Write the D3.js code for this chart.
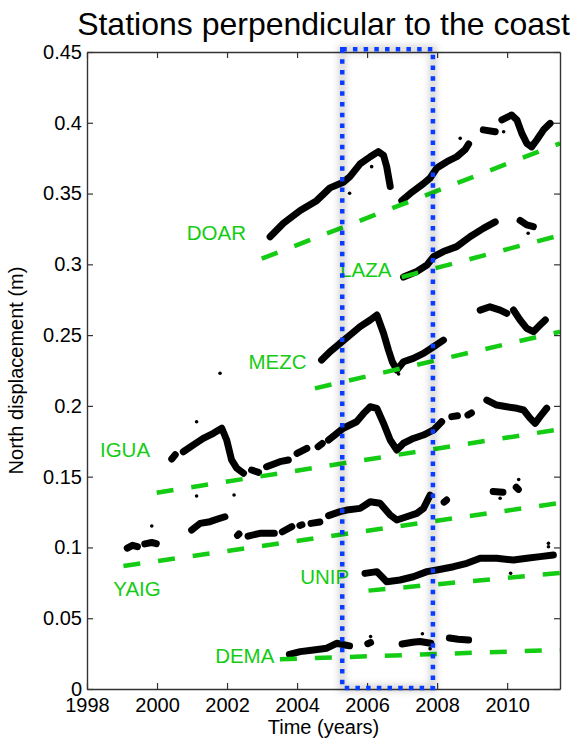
<!DOCTYPE html>
<html>
<head>
<meta charset="utf-8">
<script src="https://cdn.jsdelivr.net/npm/d3@7"></script>
<style>
  html, body { margin: 0; padding: 0; background: #fff; }
  svg { display: block; font-family: "Liberation Sans", Arial, Helvetica, sans-serif; }
</style>
</head>
<body>
<svg id="chart" width="576" height="741"></svg>
<script>
// ---------------- DATA ----------------
const xTicks = [1998, 2000, 2002, 2004, 2006, 2008, 2010];
const xTickLabels = ["1998", "2000", "2002", "2004", "2006", "2008", "2010"];
const yTicks = [0, 0.05, 0.1, 0.15, 0.2, 0.25, 0.3, 0.35, 0.4, 0.45];
const yTickLabels = ["0", "0.05", "0.1", "0.15", "0.2", "0.25", "0.3", "0.35", "0.4", "0.45"];

const stationNames = ["DOAR", "LAZA", "MEZC", "IGUA", "YAIG", "UNIP", "DEMA"];

// time series [year, north displacement (m)], null = data gap
const doar = [[2003.23,0.3195],[2003.61,0.329],[2004.09,0.338],[2004.56,0.345],[2004.94,0.354],[2005.32,0.358],[2005.51,0.362],[2005.8,0.371],[2006.09,0.376],[2006.32,0.3796],[2006.47,0.377],[2006.56,0.369],[2006.66,0.355], null,
  [2006.99,0.345],[2007.23,0.350],[2007.61,0.357],[2007.8,0.361],[2007.99,0.368],[2008.28,0.3725],[2008.56,0.376],[2008.8,0.381],[2008.9,0.385], null,
  [2009.32,0.395],[2009.66,0.3937], null,
  [2009.85,0.402],[2010.13,0.4055],[2010.28,0.402],[2010.42,0.3925],[2010.56,0.3855],[2010.7,0.383],[2010.85,0.388],[2011.04,0.395],[2011.23,0.3996]];
const laza = [[2007.04,0.291],[2007.42,0.295],[2007.71,0.2995],[2007.9,0.3054],[2008.18,0.309],[2008.56,0.3125],[2008.94,0.3195],[2009.32,0.3254],[2009.66,0.330], null,
  [2010.37,0.331],[2010.56,0.3278],[2010.75,0.3266]];
const mezc = [[2004.7,0.2324],[2004.94,0.2383],[2005.23,0.2442],[2005.51,0.250],[2005.8,0.256],[2006.09,0.2607],[2006.28,0.2642],[2006.47,0.2513],[2006.61,0.2395],[2006.72,0.2312],[2006.85,0.2253],[2007.04,0.2312],[2007.32,0.2336],[2007.61,0.2371],[2007.9,0.2418],[2008.18,0.2465], null,
  [2009.23,0.2677],[2009.51,0.270],[2009.8,0.2677],[2009.99,0.2654], null,
  [2010.18,0.2677],[2010.37,0.2607],[2010.56,0.2548],[2010.75,0.2524],[2010.94,0.2571],[2011.09,0.2607]];
const igua = [[2000.42,0.1625],[2000.52,0.1655], null,
  [2000.75,0.1676],[2001.04,0.1724],[2001.32,0.177],[2001.61,0.1806],[2001.85,0.1842],[2001.99,0.1759],[2002.13,0.1618],[2002.28,0.1559],[2002.47,0.1524], null,
  [2002.7,0.1547],[2002.9,0.153], null,
  [2003.13,0.157],[2003.51,0.1606],[2003.75,0.1618], null,
  [2004.0,0.1665],[2004.28,0.170], null,
  [2004.6,0.1712],[2004.72,0.1735], null,
  [2004.9,0.1759],[2005.32,0.1842],[2005.7,0.1888],[2005.9,0.1947],[2006.09,0.1994],[2006.28,0.1983],[2006.47,0.1877],[2006.66,0.1759],[2006.85,0.1688],[2007.04,0.1736],[2007.32,0.177],[2007.61,0.1794],[2007.9,0.183],[2008.13,0.1888], null,
  [2008.42,0.1924],[2008.58,0.1930], null,
  [2008.88,0.1936],[2008.98,0.195], null,
  [2009.42,0.2041],[2009.7,0.2006],[2009.99,0.1994],[2010.28,0.1983],[2010.47,0.1971],[2010.66,0.1912],[2010.8,0.1877],[2010.94,0.1924],[2011.13,0.1983]];
const yaig = [[1999.15,0.0995],[1999.3,0.1015],[1999.44,0.1005], null,
  [1999.65,0.1025],[1999.85,0.1035],[1999.98,0.1027], null,
  [2000.99,0.1123],[2001.23,0.117],[2001.51,0.1182],[2001.8,0.1206],[2001.94,0.1217], null,
  [2002.3,0.1085],[2002.34,0.1095], null,
  [2002.6,0.108],[2002.94,0.11],[2003.35,0.11], null,
  [2003.58,0.1111],[2003.85,0.1147], null,
  [2004.08,0.1155],[2004.14,0.116], null,
  [2004.4,0.117],[2004.65,0.118], null,
  [2004.9,0.1225],[2005.23,0.1253],[2005.42,0.1264],[2005.8,0.1276],[2006.09,0.1323],[2006.37,0.1312],[2006.66,0.1229],[2006.85,0.1194],[2007.13,0.1217],[2007.42,0.1241],[2007.61,0.1276],[2007.8,0.137], null,
  [2008.2,0.132],[2008.27,0.1335], null,
  [2009.6,0.1395],[2009.88,0.139], null,
  [2010.26,0.1425],[2010.32,0.141]];
const unip = [[2005.94,0.0817],[2006.28,0.0829],[2006.56,0.0758],[2006.94,0.077],[2007.32,0.0793],[2007.71,0.0829],[2007.99,0.0841],[2008.47,0.0864],[2008.85,0.0888],[2009.23,0.0923],[2009.7,0.0923],[2010.18,0.0911],[2010.56,0.0923],[2010.94,0.0935],[2011.32,0.0947]];
const dema = [[2003.78,0.0245],[2004.09,0.0264],[2004.47,0.0276],[2004.85,0.0288],[2005.13,0.0323],[2005.37,0.0311],[2005.5,0.0305], null,
  [2006.02,0.032],[2006.1,0.0328], null,
  [2007.0,0.0318],[2007.3,0.033],[2007.51,0.0335],[2007.82,0.0323], null,
  [2008.35,0.036],[2008.6,0.0352],[2008.9,0.0346]];

// isolated points
const doarOutliers = [[2005.5,0.3502],[2006.13,0.369],[2008.66,0.389],[2009.9,0.3937]];
const lazaOutliers = [[2010.6,0.322]];
const mezcOutliers = [[2006.9,0.2225]];
const iguaOutliers = [[2001.13,0.1888],[2001.13,0.1363],[2002.2,0.137],[2001.8,0.2231]];
const yaigOutliers = [[1999.85,0.1151],[2009.8,0.1347],[2010.33,0.148]];
const unipOutliers = [[2010.1,0.0817],[2011.18,0.1029],[2011.18,0.1005]];
const demaOutliers = [[2006.1,0.037],[2007.58,0.039],[2007.8,0.0285]];

// linear trends [t0, v0, t1, v1]
const doarTrend = [2002.99, 0.304, 2011.51, 0.3855];
const lazaTrend = [2006.99, 0.291, 2011.51, 0.3205];
const mezcTrend = [2004.51, 0.2124, 2011.51, 0.2524];
const iguaTrend = [1999.99, 0.1387, 2011.51, 0.1835];
const yaigTrend = [1999.04, 0.0869, 2011.51, 0.1314];
const unipTrend = [2006.04, 0.0695, 2011.51, 0.082];
const demaTrend = [2003.51, 0.021, 2011.51, 0.0276];

// label anchors [year, value]
const labelAnchors = [[2000.85,0.3175],[2005.23,0.291],[2002.61,0.2258],[1998.37,0.1641],[1998.75,0.0657],[2004.09,0.074],[2001.66,0.0182]];

// highlighted time window [t0, t1, v0, v1]
const windowBox = [2005.29, 2007.88, 0.0007, 0.452];

// ---------------- CHART ----------------
const series = [doar, laza, mezc, igua, yaig, unip, dema];
const outliers = [doarOutliers, lazaOutliers, mezcOutliers, iguaOutliers, yaigOutliers, unipOutliers, demaOutliers];
const trends = [doarTrend, lazaTrend, mezcTrend, iguaTrend, yaigTrend, unipTrend, demaTrend];

const L = 87, R = 560, T = 52, B = 689;
const x = d3.scaleLinear().domain([1998, 2011.51]).range([L, R]);
const y = d3.scaleLinear().domain([0, 0.45]).range([B, T]);

const svg = d3.select("#chart");
const GREEN = "#14cc14", BLUE = "#0a3cff", AX = "#333";

svg.append("defs").append("clipPath").attr("id", "clip")
  .append("rect").attr("x", L).attr("y", T - 4).attr("width", R - L).attr("height", B - T + 4);
const blur = svg.select("defs").append("filter").attr("id", "glow")
  .attr("x", "-20%").attr("y", "-5%").attr("width", "140%").attr("height", "110%");
blur.append("feGaussianBlur").attr("stdDeviation", 3);

const plot = svg.append("g").attr("clip-path", "url(#clip)");

const line = d3.line().defined(d => d !== null).x(d => x(d[0])).y(d => y(d[1]));

// data bands
plot.selectAll("path.ts").data(series).join("path")
  .attr("class", "ts")
  .attr("d", line)
  .attr("fill", "none").attr("stroke", "#000")
  .attr("stroke-width", 7).attr("stroke-linejoin", "round").attr("stroke-linecap", "round");

plot.selectAll("g.out").data(outliers).join("g").attr("class", "out")
  .selectAll("circle").data(d => d).join("circle")
  .attr("cx", d => x(d[0])).attr("cy", d => y(d[1])).attr("r", 1.8).attr("fill", "#000");

// trends
plot.selectAll("line.trend").data(trends).join("line")
  .attr("class", "trend")
  .attr("x1", d => x(d[0])).attr("y1", d => y(d[1]))
  .attr("x2", d => x(d[2])).attr("y2", d => y(d[3]))
  .attr("stroke", GREEN).attr("stroke-width", 4.5).attr("stroke-dasharray", "17,18");

// labels
svg.selectAll("text.lab").data(stationNames).join("text")
  .attr("class", "lab")
  .attr("x", (d, i) => x(labelAnchors[i][0]))
  .attr("y", (d, i) => y(labelAnchors[i][1]))
  .attr("fill", GREEN).attr("font-size", 20.5)
  .text(d => d);

// axes
const gB = svg.append("g").attr("transform", `translate(0,${B})`)
  .call(d3.axisBottom(x).tickValues(xTicks).tickFormat((d, i) => xTickLabels[i]).tickSize(-6).tickSizeOuter(0).tickPadding(9));
const gT = svg.append("g").attr("transform", `translate(0,${T})`)
  .call(d3.axisTop(x).tickValues(xTicks).tickFormat("").tickSize(-6).tickSizeOuter(0));
const gL = svg.append("g").attr("transform", `translate(${L},0)`)
  .call(d3.axisLeft(y).tickValues(yTicks).tickFormat((d, i) => yTickLabels[i]).tickSize(-6).tickSizeOuter(0).tickPadding(5));
const gR = svg.append("g").attr("transform", `translate(${R},0)`)
  .call(d3.axisRight(y).tickValues(yTicks).tickFormat("").tickSize(-6).tickSizeOuter(0));

[gB, gT, gL, gR].forEach(g => {
  g.select(".domain").attr("stroke", AX).attr("stroke-width", 1.4);
  g.selectAll(".tick line").attr("stroke", AX).attr("stroke-width", 1.2);
  g.selectAll(".tick text").attr("fill", "#000").attr("font-size", 20)
    .attr("font-family", "'Liberation Sans', Arial, Helvetica, sans-serif");
});

// highlighted window (with soft shadow)
const bx = x(windowBox[0]), bx2 = x(windowBox[1]), by = y(windowBox[3]), by2 = y(windowBox[2]);
svg.append("rect")
  .attr("x", bx).attr("y", by).attr("width", bx2 - bx).attr("height", by2 - by)
  .attr("fill", "none").attr("stroke", "#000").attr("stroke-opacity", 0.15).attr("stroke-width", 8)
  .attr("filter", "url(#glow)");
svg.append("rect")
  .attr("x", bx).attr("y", by).attr("width", bx2 - bx).attr("height", by2 - by)
  .attr("fill", "none").attr("stroke", BLUE).attr("stroke-width", 4.5)
  .attr("stroke-dasharray", "4.5,6.2");

// titles
svg.append("text").attr("x", (L + R) / 2).attr("y", 35).attr("text-anchor", "middle")
  .attr("font-size", 32).attr("fill", "#000").text("Stations perpendicular to the coast");
svg.append("text").attr("x", (L + R) / 2).attr("y", 734).attr("text-anchor", "middle")
  .attr("font-size", 20).attr("fill", "#000").text("Time (years)");
svg.append("text").attr("transform", `translate(23,${(T + B) / 2}) rotate(-90)`).attr("text-anchor", "middle")
  .attr("font-size", 20).attr("fill", "#000").text("North displacement (m)");
</script>
</body>
</html>
